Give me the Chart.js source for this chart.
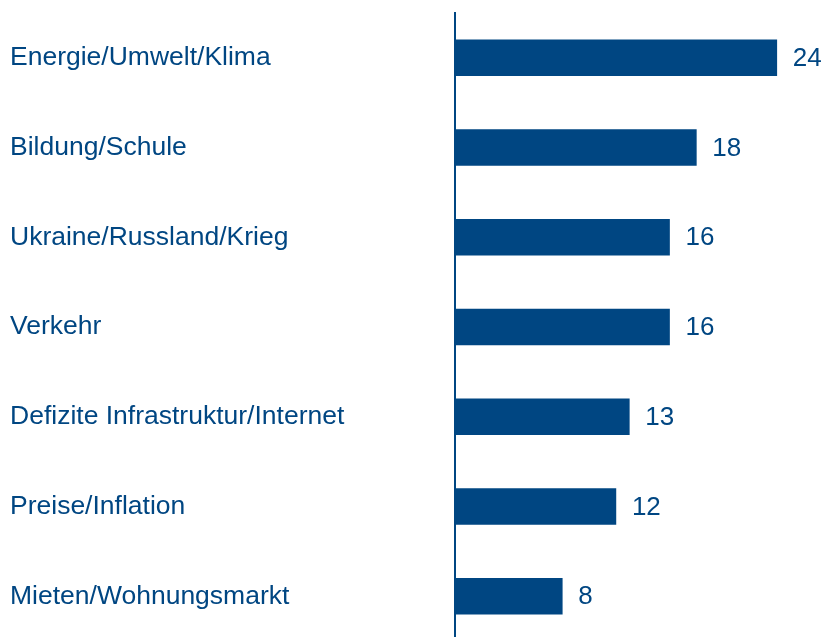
<!DOCTYPE html>
<html>
<head>
<meta charset="utf-8">
<script src="https://cdn.jsdelivr.net/npm/chart.js@4/dist/chart.umd.min.js"></script>
<style>
  html, body { margin: 0; padding: 0; background: #ffffff; overflow: hidden; }
  #wrap { width: 826px; height: 637px; overflow: hidden; position: relative; }
  canvas { display: block; margin-top: -3px; }
</style>
</head>
<body>
<div id="wrap"><canvas id="c" width="826" height="660"></canvas></div>
<script>
const categories = [
  "Energie/Umwelt/Klima",
  "Bildung/Schule",
  "Ukraine/Russland/Krieg",
  "Verkehr",
  "Defizite Infrastruktur/Internet",
  "Preise/Inflation",
  "Mieten/Wohnungsmarkt"
];
const values = [24, 18, 16, 16, 13, 12, 8];

const BLUE = "#004682";
const FONT = "'Liberation Sans', Arial, Helvetica, sans-serif";

const valueLabels = {
  id: "valueLabels",
  afterDatasetsDraw(chart) {
    const ctx = chart.ctx;
    const meta = chart.getDatasetMeta(0);
    ctx.save();
    ctx.font = "26px " + FONT;
    ctx.fillStyle = BLUE;
    ctx.textAlign = "left";
    ctx.textBaseline = "middle";
    meta.data.forEach((bar, i) => {
      ctx.fillText(String(values[i]), bar.x + 16, bar.y + 1);
    });
    ctx.restore();
  }
};

new Chart(document.getElementById("c"), {
  type: "bar",
  data: {
    labels: categories,
    datasets: [{
      data: values,
      backgroundColor: BLUE,
      borderWidth: 0,
      barThickness: 36
    }]
  },
  options: {
    indexAxis: "y",
    responsive: false,
    animation: false,
    devicePixelRatio: 1,
    layout: { padding: { left: 10, right: 9, top: 12, bottom: 0 } },
    plugins: {
      legend: { display: false },
      tooltip: { enabled: false }
    },
    scales: {
      x: {
        display: false,
        min: 0,
        max: 27
      },
      y: {
        grid: { display: false },
        border: { display: true, color: BLUE, width: 2 },
        afterFit(scale) { scale.width = 445; },
        ticks: {
          crossAlign: "far",
          color: BLUE,
          padding: 0,
          font: { family: FONT, size: 26.5 }
        }
      }
    }
  },
  plugins: [valueLabels]
});
</script>
</body>
</html>
